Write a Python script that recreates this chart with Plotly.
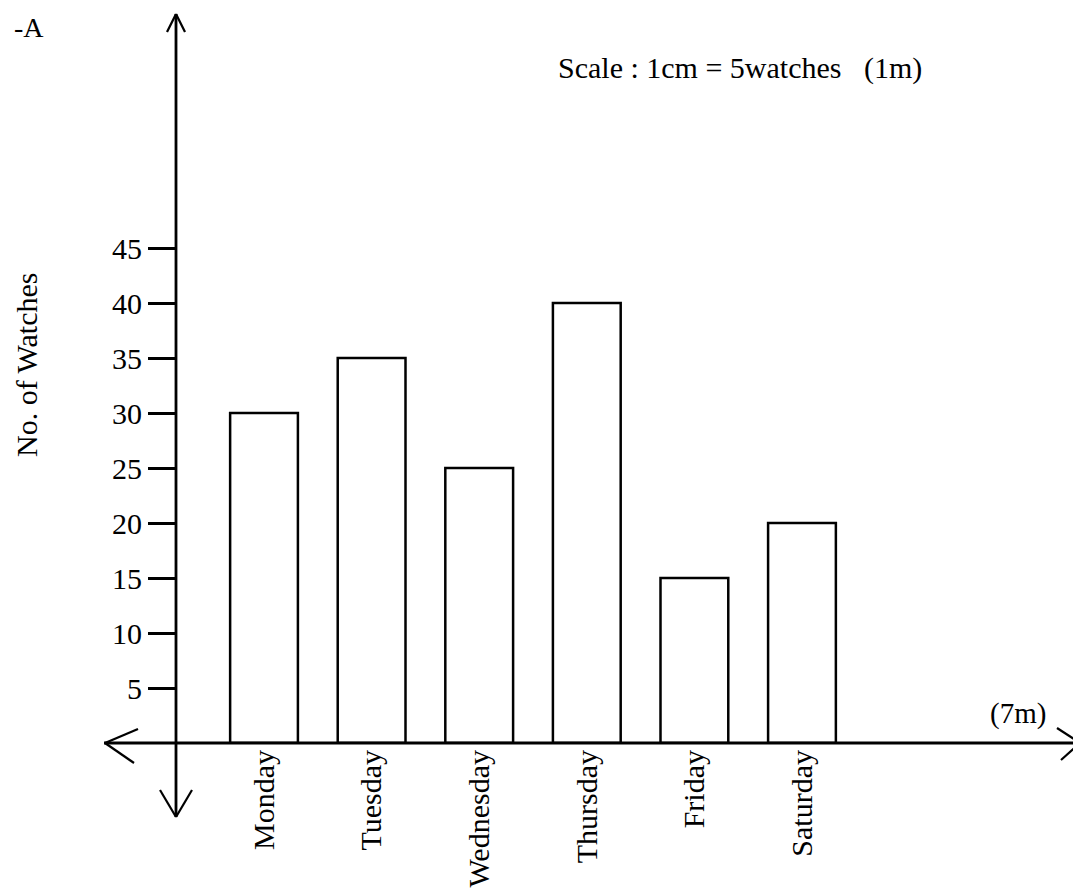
import plotly.graph_objects as go

days = ["Monday", "Tuesday", "Wednesday", "Thursday", "Friday", "Saturday"]
watches = [30, 35, 25, 40, 15, 20]
y_ticks = [5, 10, 15, 20, 25, 30, 35, 40, 45]

OFF = 8  # page body margin
FW, FH = 1081 - OFF, 888 - OFF
L, R, T, B = 97, 1, 7, 145
PW, PH = FW - L - R, FH - T - B
FONT = "Liberation Serif"


def px(x, y):
    """target-page pixel -> paper coordinates"""
    return (x - OFF - L) / PW, (FH - B - (y - OFF)) / PH


fig = go.Figure()
fig.add_trace(go.Bar(
    x=days, y=watches, width=0.63,
    marker=dict(color="white", line=dict(color="black", width=2.5)),
    hoverinfo="x+y",
))

shapes = []


def seg(p1, p2, w=2.8):
    x0, y0 = px(*p1)
    x1, y1 = px(*p2)
    shapes.append(dict(type="line", xref="paper", yref="paper",
                       x0=x0, y0=y0, x1=x1, y1=y1,
                       line=dict(color="black", width=w)))


# axes lines with arrowheads
seg((176, 14), (176, 817))
seg((104, 743), (1080, 743))
seg((176, 14), (167, 32), 2.2)
seg((176, 14), (185, 32), 2.2)
seg((176, 817), (160, 790), 2.2)
seg((176, 817), (192, 790), 2.2)
seg((105, 743), (138, 729), 2.2)
seg((105, 743), (134, 763), 2.2)
seg((1080, 743), (1057, 728), 2.2)
seg((1080, 743), (1061, 760), 2.2)

ann = []


def text(s, x, y, size=30, angle=0, xanchor="center"):
    ax, ay = px(x, y)
    ann.append(dict(text=s, x=ax, y=ay, xref="paper", yref="paper",
                    showarrow=False, textangle=angle, xanchor=xanchor,
                    yanchor="middle", font=dict(family=FONT, size=size, color="black")))


text("-A", 12, 27, size=28, xanchor="left")
text("Scale : 1cm = 5watches   (1m)", 556, 68, size=30, xanchor="left")
text("(7m)", 1018, 713, size=29)
text("No. of Watches", 27, 365, size=30, angle=-90)

fig.update_layout(
    width=FW, height=FH,
    margin=dict(l=L, r=R, t=T, b=B),
    paper_bgcolor="white", plot_bgcolor="white",
    showlegend=False,
    shapes=shapes, annotations=ann,
    xaxis=dict(type="category", categoryorder="array", categoryarray=days,
               range=[-1.478, 7.584], showgrid=False, zeroline=False,
               showline=False, ticks="", tickangle=-90,
               tickfont=dict(family=FONT, size=30, color="black")),
    yaxis=dict(range=[0, PH / 11.0], anchor="free", position=(176 - OFF - L) / PW,
               showgrid=False, zeroline=False, showline=False,
               tickvals=y_ticks, ticks="outside", ticklen=28, tickwidth=2.8,
               tickcolor="black",
               tickfont=dict(family=FONT, size=30, color="black")),
)

fig.write_html("out.html")
